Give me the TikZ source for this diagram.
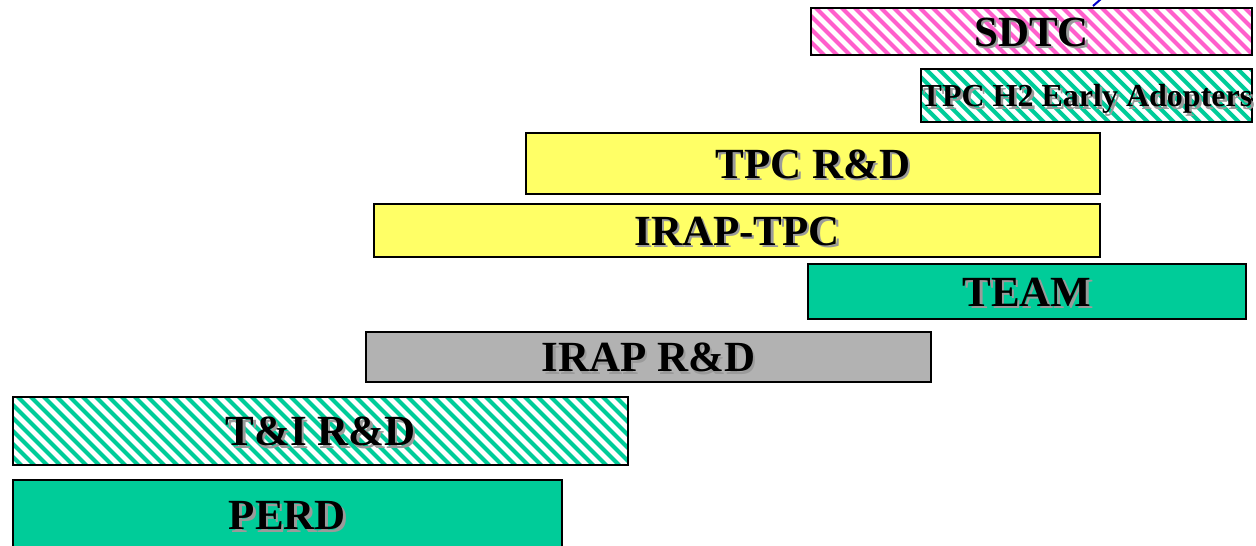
\documentclass[tikz,border=0pt]{standalone}
\usepackage{fontspec}
\setmainfont{Liberation Serif}
\definecolor{pinkst}{HTML}{FF5FCC}
\definecolor{greenf}{HTML}{00CC99}
\definecolor{yellowf}{HTML}{FFFF66}
\definecolor{grayf}{HTML}{B2B2B2}
\definecolor{shadowgray}{HTML}{9A9A9A}
\newcommand\shadowed[1]{\leavevmode\rlap{\kern2.5pt\raisebox{-2.5pt}{\color{shadowgray}#1}}#1}
\tikzset{
  bar/.style={draw=black, line width=2pt, inner sep=0pt, text height=29pt, text depth=0pt,
              font=\bfseries\fontsize{43}{43}\selectfont},
  stripes/.style={path picture={
      \foreach \i in {-91,-78,...,650}{
        \draw[#1, line width=4pt] ([xshift=\i pt, yshift=5pt]path picture bounding box.north west) -- ++(110pt,-110pt);
      }}},
}
\begin{document}
\begin{tikzpicture}[x=1pt,y=-1pt]
  \clip (0,0) rectangle (1256,546);
  \fill[white] (0,0) rectangle (1256,546);
  \coordinate (tipA) at (1093,6);
  \coordinate (tipB) at (1101,-1);
  \draw[blue!80!black, line width=2pt] (tipA) -- (tipB);

  \node[bar, fill=white, stripes=pinkst, minimum width=441pt, minimum height=47pt] (sdtc) at (1031.5,31.5) {\shadowed{SDTC}};
  \node[bar, fill=white, stripes=greenf, minimum width=331pt, minimum height=53pt, text height=22pt,
        font=\bfseries\fontsize{32}{32}\selectfont] (h2) at (1086.5,95.5) {\shadowed{TPC H2 Early Adopters}};
  \node[bar, fill=yellowf, minimum width=574pt, minimum height=61pt] (tpcrd) at (813,163.5) {\shadowed{TPC R\&D}};
  \node[bar, fill=yellowf, minimum width=726pt, minimum height=53pt] (iraptpc) at (737,230.5) {\shadowed{IRAP-TPC}};
  \node[bar, fill=greenf, minimum width=438pt, minimum height=55pt] (team) at (1027,291.5) {\shadowed{TEAM}};
  \node[bar, fill=grayf, minimum width=565pt, minimum height=50pt] (iraprd) at (648.5,357) {\shadowed{IRAP R\&D}};
  \node[bar, fill=white, stripes=greenf, minimum width=615pt, minimum height=68pt] (tird) at (320.5,431) {\shadowed{T\&I R\&D}};
  \node[bar, fill=greenf, minimum width=549pt, minimum height=76pt] (perd) at (287.5,518) {\raisebox{3pt}{\shadowed{PERD}}};
\end{tikzpicture}
\end{document}
